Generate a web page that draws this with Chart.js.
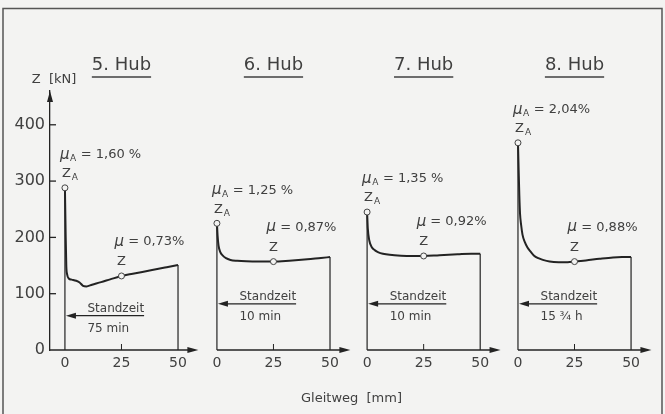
<!DOCTYPE html>
<html>
<head>
<meta charset="utf-8">
<script src="https://cdn.jsdelivr.net/npm/chart.js@4.4.0/dist/chart.umd.min.js"></script>
<style>
  html, body { margin: 0; padding: 0; background: #f3f3f2; }
  #wrap { width: 665px; height: 414px; }
</style>
</head>
<body>
<div id="wrap"><canvas id="chart" width="665" height="414"></canvas></div>
<script>
// Panel titles
const hubs = ['5. Hub', '6. Hub', '7. Hub', '8. Hub'];

// Gleitweg [mm] and Zugkraft Z [kN] per Hub
const weg5   = [0, 0.3, 0.6, 1, 1.7, 3, 5, 6.5, 8, 9.5, 12, 16, 20, 25, 30, 38, 45, 50];
const kraft5 = [288, 210, 150, 134, 127, 125, 123, 120, 114, 113, 116, 120.5, 125.5, 131.5, 135.5, 141.5, 147, 151];
const weg6   = [0, 0.3, 0.7, 1.5, 2.5, 4, 6, 9, 13, 18, 25, 32, 40, 46, 50];
const kraft6 = [225, 203, 186, 174, 168, 163, 160, 158.5, 157.5, 157, 157, 158.5, 161, 163.5, 165];
const weg7   = [0, 0.3, 1, 2, 3.5, 5, 7, 10, 15, 20, 25, 32, 40, 46, 50];
const kraft7 = [245, 216, 194, 183, 177, 173.5, 171, 169, 167.5, 167, 167, 168.5, 170, 171, 171];
const weg8   = [0, 0.3, 0.6, 0.9, 1.4, 2, 3, 4.2, 5.5, 7, 9, 11, 14, 18, 22, 25, 30, 36, 42, 46, 50];
const kraft8 = [368, 320, 275, 243, 222, 205, 192, 182, 175, 168, 163, 160, 157, 156, 156, 157, 159, 162, 164.5, 165, 165];

const wege   = [weg5, weg6, weg7, weg8];
const kraefte = [kraft5, kraft6, kraft7, kraft8];

// marked points: Z_A at start, Z at 25 mm
const zA  = [288, 225, 245, 368];
const z25 = [131.5, 157, 167, 157];
const muA = ['1,60 %', '1,25 %', '1,35 %', '2,04%'];
const mu  = ['0,73%', '0,87%', '0,92%', '0,88%'];

// Standzeit arrows
const standzeit = ['75 min', '10 min', '10 min', '15 ¾ h'];
const standzeitLevel = [61, 82, 82, 82];
const standzeitEnd = 35;

// axis ticks
const yTicks = [0, 100, 200, 300, 400];
const xTicks = [0, 25, 50];
const xTickLabels = ['0', '25', '50'];
const xAxisEnd = 59;

// layout: where each panel sits on the shared x scale
const panelShift = [0, 67.2, 133.6, 200.3];

const FONT = '"DejaVu Sans", sans-serif';
const INK = '#232323';
const TEXT = '#404040';
const PAPER = '#f3f3f2';

const datasets = [];
wege.forEach((weg, i) => {
  const s = panelShift[i];
  const last = kraefte[i][kraefte[i].length - 1];
  datasets.push({
    data: [{ x: s, y: zA[i] }, { x: s + 25, y: z25[i] }],
    showLine: false, pointRadius: 3, pointBorderWidth: 1,
    pointBackgroundColor: PAPER, pointBorderColor: '#444', order: 0
  });
  datasets.push({
    data: weg.map((w, j) => ({ x: s + w, y: kraefte[i][j] })),
    borderColor: INK, borderWidth: 2, pointRadius: 0,
    cubicInterpolationMode: 'monotone', order: 1
  });
  datasets.push({
    data: [{ x: s, y: 0 }, { x: s, y: zA[i] }],
    borderColor: INK, borderWidth: 1.2, pointRadius: 0, order: 2
  });
  datasets.push({
    data: [{ x: s + 50, y: last }, { x: s + 50, y: 0 }],
    borderColor: INK, borderWidth: 1.2, pointRadius: 0, order: 2
  });
});

function drawMu(ctx, x, y, sub, text) {
  ctx.textAlign = 'left';
  ctx.textBaseline = 'middle';
  ctx.font = 'italic 15px ' + FONT;
  ctx.fillText('μ', x, y);
  let w = ctx.measureText('μ').width;
  if (sub) {
    ctx.font = '9px ' + FONT;
    ctx.fillText(sub, x + w + 0.5, y + 4);
    w += ctx.measureText(sub).width + 1;
  }
  ctx.font = '13px ' + FONT;
  ctx.fillText(text, x + w, y);
}

const drawing = {
  id: 'drawing',
  beforeDraw(chart) {
    const ctx = chart.ctx;
    ctx.save();
    ctx.fillStyle = PAPER;
    ctx.fillRect(0, 0, chart.width, chart.height);
    ctx.strokeStyle = '#555';
    ctx.lineWidth = 1.5;
    ctx.strokeRect(3, 8.5, 659, 420);
    ctx.restore();
  },
  afterDraw(chart) {
    const ctx = chart.ctx;
    const xs = chart.scales.x, ys = chart.scales.y;
    const area = chart.chartArea;
    const px = v => xs.getPixelForValue(v);
    const py = v => ys.getPixelForValue(v);
    ctx.save();
    ctx.strokeStyle = INK;
    ctx.fillStyle = INK;
    ctx.lineWidth = 1.3;

    // y axis arrow and inner tick marks
    ctx.beginPath();
    ctx.moveTo(area.left, area.top);
    ctx.lineTo(area.left - 3, area.top + 11);
    ctx.lineTo(area.left + 3, area.top + 11);
    ctx.closePath();
    ctx.fill();
    yTicks.slice(1).forEach(v => {
      ctx.beginPath();
      ctx.moveTo(area.left, py(v));
      ctx.lineTo(area.left + 6, py(v));
      ctx.stroke();
    });

    ctx.fillStyle = TEXT;
    ctx.font = '13px ' + FONT;
    ctx.textAlign = 'center';
    ctx.textBaseline = 'middle';
    ctx.fillText('Z  [kN]', area.left + 4, area.top - 11);

    panelShift.forEach((s, i) => {
      const x0 = px(s), y0 = py(0);
      ctx.strokeStyle = INK;
      ctx.fillStyle = INK;
      ctx.lineWidth = 1.3;
      // x axis with arrow
      const xEnd = px(s + xAxisEnd);
      ctx.beginPath();
      ctx.moveTo(i === 0 ? area.left : x0, y0);
      ctx.lineTo(xEnd - 8, y0);
      ctx.stroke();
      ctx.beginPath();
      ctx.moveTo(xEnd, y0);
      ctx.lineTo(xEnd - 11, y0 - 3);
      ctx.lineTo(xEnd - 11, y0 + 3);
      ctx.closePath();
      ctx.fill();
      // tick at 25
      ctx.lineWidth = 1;
      ctx.beginPath();
      ctx.moveTo(px(s + 25), y0);
      ctx.lineTo(px(s + 25), y0 - 6);
      ctx.stroke();

      // title with underline
      ctx.fillStyle = TEXT;
      ctx.font = '18px ' + FONT;
      ctx.textAlign = 'center';
      ctx.textBaseline = 'middle';
      const tx = px(s + 25);
      ctx.fillText(hubs[i], tx, 65);
      const tw = ctx.measureText(hubs[i]).width;
      ctx.strokeStyle = TEXT;
      ctx.lineWidth = 1.3;
      ctx.beginPath();
      ctx.moveTo(tx - tw / 2, 77);
      ctx.lineTo(tx + tw / 2, 77);
      ctx.stroke();

      // Z_A label
      const ya = py(zA[i]);
      ctx.font = '13px ' + FONT;
      ctx.textAlign = 'left';
      ctx.fillText('Z', x0 - 3, ya - 14);
      const zw = ctx.measureText('Z').width;
      ctx.font = '9px ' + FONT;
      ctx.fillText('A', x0 - 3 + zw + 1, ya - 10);
      drawMu(ctx, x0 - 5, ya - 33, 'A', ' = ' + muA[i]);

      // Z label at 25 mm
      const xz = px(s + 25), yz = py(z25[i]);
      ctx.font = '13px ' + FONT;
      ctx.textAlign = 'center';
      ctx.fillText('Z', xz, yz - 14);
      drawMu(ctx, xz - 7, yz - 34, '', ' = ' + mu[i]);

      // Standzeit arrow
      const ys_ = py(standzeitLevel[i]);
      const xe = px(s + standzeitEnd);
      ctx.strokeStyle = INK;
      ctx.fillStyle = INK;
      ctx.lineWidth = 1.1;
      ctx.beginPath();
      ctx.moveTo(x0 + 6, ys_);
      ctx.lineTo(xe, ys_);
      ctx.stroke();
      ctx.beginPath();
      ctx.moveTo(x0 + 1, ys_);
      ctx.lineTo(x0 + 11, ys_ - 3);
      ctx.lineTo(x0 + 11, ys_ + 3);
      ctx.closePath();
      ctx.fill();
      ctx.fillStyle = TEXT;
      ctx.font = '12px ' + FONT;
      ctx.textAlign = 'right';
      ctx.textBaseline = 'alphabetic';
      ctx.fillText('Standzeit', xe, ys_ - 4);
      const sw = ctx.measureText('Standzeit').width;
      ctx.textAlign = 'left';
      ctx.fillText(standzeit[i], xe - sw, ys_ + 16);
    });
    ctx.restore();
  }
};

new Chart(document.getElementById('chart'), {
  type: 'line',
  data: { datasets },
  options: {
    responsive: false,
    animation: false,
    layout: { padding: { left: 0, right: 12, top: 91, bottom: 8 } },
    plugins: { legend: { display: false }, tooltip: { enabled: false } },
    scales: {
      x: {
        type: 'linear', min: -6.6, max: 260,
        afterBuildTicks: sc => {
          sc.ticks = panelShift.flatMap(s => xTicks.map(t => ({ value: s + t })));
        },
        afterFit: sc => { sc.height = 56; },
        grid: { display: false, drawTicks: false },
        border: { display: false },
        ticks: {
          autoSkip: false, maxRotation: 0, padding: 5, color: TEXT,
          font: { family: FONT, size: 14 },
          callback: (v, idx) => xTickLabels[idx % xTickLabels.length]
        },
        title: {
          display: true, text: 'Gleitweg  [mm]', color: TEXT,
          font: { family: FONT, size: 13 }, padding: 0
        }
      },
      y: {
        type: 'linear', min: 0, max: 460,
        afterBuildTicks: sc => { sc.ticks = yTicks.map(v => ({ value: v })); },
        afterFit: sc => { sc.width = 50; },
        grid: { display: false, drawTicks: false },
        border: { display: true, color: INK, width: 1.3 },
        ticks: { padding: 5, color: TEXT, font: { family: FONT, size: 16 } }
      }
    }
  },
  plugins: [drawing]
});
</script>
</body>
</html>
